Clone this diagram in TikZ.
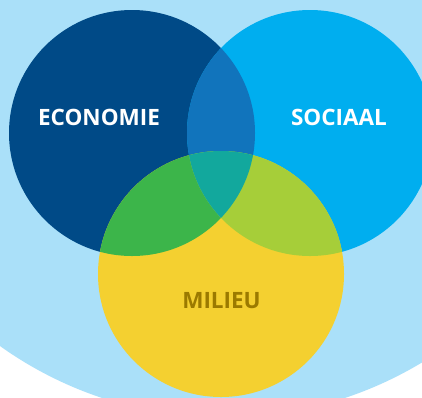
\documentclass[tikz,border=0pt]{standalone}
\usepackage{fontspec}
\setmainfont{Open Sans}
\definecolor{bgblue}{RGB}{170,224,249}
\definecolor{ecoblue}{RGB}{0,74,135}
\definecolor{socblue}{RGB}{0,174,239}
\definecolor{milyellow}{RGB}{244,208,48}
\definecolor{esblue}{RGB}{17,116,188}
\definecolor{emgreen}{RGB}{60,181,74}
\definecolor{smgreen}{RGB}{166,206,57}
\definecolor{allteal}{RGB}{18,168,157}
\definecolor{miltext}{RGB}{155,122,0}
\tikzset{
  lbl/.style={font=\fontsize{22.5}{26}\selectfont\bfseries, inner sep=0pt, anchor=center},
}
\begin{document}
\begin{tikzpicture}[x=1pt,y=-1pt]
\useasboundingbox (0,0) rectangle (422,397);
\fill[white] (0,0) rectangle (422,397);
\begin{scope}
  \clip (0,0) rectangle (422,397);
  \fill[bgblue] (223.5,32.5) circle (385pt);
\end{scope}
% circles
\coordinate (ce) at (132,133);
\coordinate (cs) at (310,133);
\coordinate (cm) at (221,274);
\begin{scope}
  \clip (0,0) rectangle (422,397);
  \fill[ecoblue] (ce) circle (123pt);
  \fill[socblue] (cs) circle (123pt);
  \fill[milyellow] (cm) circle (123pt);
  \begin{scope}
    \clip (ce) circle (123pt);
    \fill[esblue] (cs) circle (123pt);
    \fill[emgreen] (cm) circle (123pt);
  \end{scope}
  \begin{scope}
    \clip (cs) circle (123pt);
    \fill[smgreen] (cm) circle (123pt);
    \clip (ce) circle (123pt);
    \fill[allteal] (cm) circle (123pt);
  \end{scope}
\end{scope}
\node[lbl, text=white] (eco) at (99,117.5) {ECONOMIE};
\node[lbl, text=white] (soc) at (339,117.5) {SOCIAAL};
\node[lbl, text=miltext] (mil) at (221.5,301) {MILIEU};
\end{tikzpicture}
\end{document}
